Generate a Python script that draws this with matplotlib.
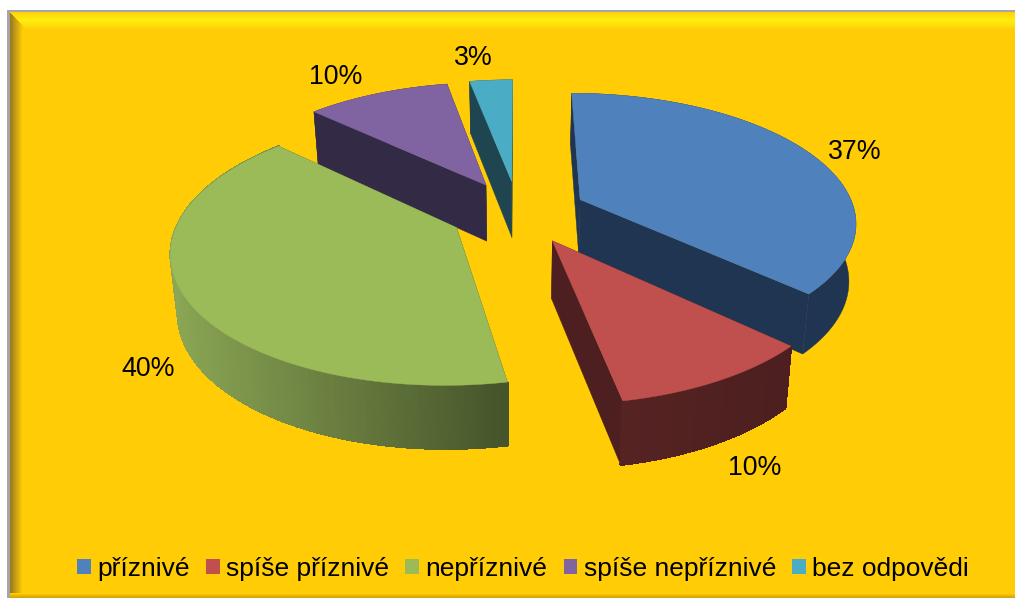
import numpy as np
import matplotlib
matplotlib.use('Agg')
import matplotlib.pyplot as plt
from matplotlib.colors import to_rgb
from matplotlib.patches import Polygon, Rectangle

categories = ['příznivé', 'spíše příznivé', 'nepříznivé', 'spíše nepříznivé', 'bez odpovědi']
values = [37, 10, 40, 10, 3]
top_colors = ['#4f81bd', '#c0504d', '#9bbb59', '#8064a2', '#4bacc6']
wall_left = ['#1f3552', '#552322', '#8ba654', '#332a45', '#1f4650']
wall_right = ['#1f3552', '#4d1f20', '#46542a', '#332a45', '#1f4650']
label_pos = [(855, 152), (755, 468), (148, 369), (336, 77), (473, 58)]

W, H = 1015, 598
CX, CY = 518, 212
A, B, K = 275, 127, 0.16
EXPLODE = 0.25


def project(u, v):
    s = 1 / (1 + K * v)
    return CX + A * u * s, CY - B * v * s


def drop(x, y):
    # lower face of the disc: a little narrower, a little deeper towards the viewer
    depth = 56 + (y - 185) * 0.037
    return CX + (x - CX) * 0.979, y + depth


def background(ax):
    base = np.array(to_rgb('#ffcc05'))
    img = np.zeros((H, W, 3))
    img[:, :] = base
    top = np.array(to_rgb('#ffee10'))
    left = np.array(to_rgb('#9a7a20'))
    bottom = np.array(to_rgb('#c89a08'))
    for y in range(H):
        for x in range(0, 24):
            t = max(0, 1 - (x - 10) / 12)
            if (y - 12) >= (x - 10):
                img[y, x] = base * (1 - t) + left * t
    for y in range(12, 32):
        t = max(0, 1 - abs(y - 20) / 10)
        img[y, max(0, y - 2):] = base * (1 - t) + top * t
    for y in range(H - 5, H):
        t = (y - (H - 5)) / 5
        img[y, 10:] = base * (1 - t) + bottom * t
    img[:10, :] = 1
    img[:, :7] = 1
    img[10:12, 7:] = to_rgb('#a6a6a6')
    img[10:, 7:10] = to_rgb('#a6a6a6')
    ax.imshow(img, extent=(0, W, H, 0), interpolation='nearest', zorder=0)


def draw_slice(ax, i, t0, t1, z):
    m = (t0 + t1) / 2
    ox, oy = EXPLODE * np.sin(m), EXPLODE * np.cos(m)
    ts = np.linspace(t0, t1, max(int((t1 - t0) * 60), 2))
    rx, ry = project(ox + np.sin(ts), oy + np.cos(ts))
    ax0, ay0 = project(ox, oy)
    bx, by = drop(rx, ry)
    abx, aby = drop(ax0, ay0)
    cl, cr = np.array(to_rgb(wall_left[i])), np.array(to_rgb(wall_right[i]))

    # straight cut faces, the one further back first
    for j in sorted((0, -1), key=lambda j: ry[j]):
        q = [(ax0, ay0), (rx[j], ry[j]), (bx[j], by[j]), (abx, aby)]
        ax.add_patch(Polygon(q, closed=True, facecolor=cr, edgecolor=cr, lw=0.3, zorder=z))

    # outer rim: one solid piece, then shading strips when the colour changes
    rim = list(zip(rx, ry)) + list(zip(bx[::-1], by[::-1]))
    ax.add_patch(Polygon(rim, closed=True, facecolor=cr, edgecolor=cr, lw=0.3, zorder=z + 0.1))
    if wall_left[i] != wall_right[i]:
        lo, hi = (170, 507) if i == 2 else (rx.min(), rx.max())
        for k in range(len(ts) - 1):
            f = min(max((rx[k] - lo) / (hi - lo), 0), 1)
            c = cl * (1 - f) + cr * f
            q = [(rx[k], ry[k]), (rx[k + 1], ry[k + 1]), (bx[k + 1], by[k + 1]), (bx[k], by[k])]
            ax.add_patch(Polygon(q, closed=True, facecolor=c, edgecolor=c, lw=0.9,
                                 antialiased=False, zorder=z + 0.2))

    top = [(ax0, ay0)] + list(zip(rx, ry))
    ax.add_patch(Polygon(top, closed=True, facecolor=top_colors[i], edgecolor=top_colors[i],
                         lw=0.3, zorder=z + 0.5))


def main():
    fig = plt.figure(figsize=(W / 100, H / 100), dpi=100)
    ax = fig.add_axes([0, 0, 1, 1])
    background(ax)
    ax.set_xlim(0, W)
    ax.set_ylim(H, 0)
    ax.axis('off')

    plt.rcParams['font.family'] = ['Liberation Sans', 'DejaVu Sans']
    edges = np.cumsum([0] + values) / sum(values) * 2 * np.pi
    order = [4, 3, 0, 2, 1]
    for z, i in enumerate(order):
        draw_slice(ax, i, edges[i], edges[i + 1], 2 + z)

    for v, (x, y) in zip(values, label_pos):
        ax.text(x, y, f'{v}%', fontsize=19.3, ha='center', va='center', color='black', zorder=20)

    handles = [Rectangle((0, 0), 1, 1, facecolor=c, edgecolor='none') for c in top_colors]
    leg = ax.legend(handles, categories, ncol=5, loc='center', bbox_to_anchor=(523 / W, 1 - 569 / H),
                    fontsize=19, frameon=False, handlelength=0.52, handleheight=0.52,
                    handletextpad=0.24, columnspacing=0.62, borderpad=0)
    leg.set_zorder(20)
    fig.savefig('out.png', dpi=100)


if __name__ == '__main__':
    main()
